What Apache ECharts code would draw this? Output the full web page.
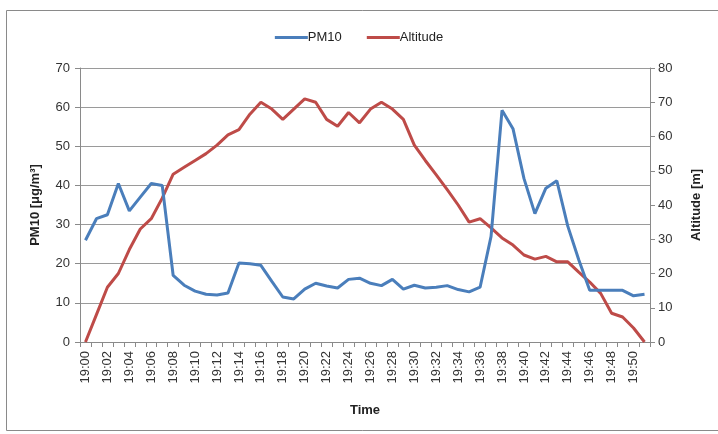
<!DOCTYPE html>
<html>
<head>
<meta charset="utf-8">
<script src="https://cdn.jsdelivr.net/npm/echarts@6/dist/echarts.min.js"></script>
<style>
html,body{margin:0;padding:0;background:#fff;}
#chart{width:718px;height:434px;}
</style>
</head>
<body>
<div id="chart"></div>
<script>
var times = ['19:00','19:01','19:02','19:03','19:04','19:05','19:06','19:07','19:08','19:09',
'19:10','19:11','19:12','19:13','19:14','19:15','19:16','19:17','19:18','19:19',
'19:20','19:21','19:22','19:23','19:24','19:25','19:26','19:27','19:28','19:29',
'19:30','19:31','19:32','19:33','19:34','19:35','19:36','19:37','19:38','19:39',
'19:40','19:41','19:42','19:43','19:44','19:45','19:46','19:47','19:48','19:49',
'19:50','19:51'];

var pm10 = [26,31.5,32.5,40.5,33.5,37,40.5,40,17,14.5,
13,12.2,12,12.5,20.2,20,19.6,15.5,11.5,11,
13.5,15,14.3,13.8,16,16.3,15,14.4,16,13.5,
14.5,13.8,14,14.4,13.4,12.8,14,27,59.2,54.5,
41.8,32.8,39.3,41.2,29.6,21,13.2,13.2,13.2,13.2,
11.8,12.2];

var altitude = [0,8,16,20,27,33,36,42,49,51,
53,55,57.5,60.5,62,66.5,70,68,65,68,
71,70,65,63,67,64,68,70,68,65,
57.5,53,48.8,44.5,40,35,36,33.3,30.4,28.3,
25.4,24.2,25,23.4,23.4,20.4,17.5,14.2,8.4,7.3,
4.1,0];

var leftTicks = [0,10,20,30,40,50,60,70];
var rightTicks = [0,10,20,30,40,50,60,70,80];

var chart = echarts.init(document.getElementById('chart'));
var font = 'Liberation Sans';
chart.setOption({
  backgroundColor:'#fff',
  animation:false,
  textStyle:{fontFamily:font},
  graphic:[{type:'rect',shape:{x:6.5,y:10.5,width:720,height:420},style:{fill:'none',stroke:'#8a8a8a',lineWidth:1},z:-1}],
  legend:{
    top:26,left:'center',
    itemWidth:33,itemHeight:3,itemGap:25,
    icon:'rect',
    textStyle:{fontFamily:font,fontSize:13,color:'#222',padding:[0,0,0,-5]},
    data:['PM10','Altitude']
  },
  grid:{left:80,right:68,top:68,bottom:92,containLabel:false},
  xAxis:{
    type:'category',data:times,boundaryGap:true,
    name:'Time',nameLocation:'middle',nameGap:62,
    nameTextStyle:{fontFamily:font,fontSize:13,fontWeight:'bold',color:'#222'},
    axisLine:{lineStyle:{color:'#8a8a8a',width:1}},
    axisTick:{show:true,interval:0,alignWithLabel:false,length:5,lineStyle:{color:'#8a8a8a'}},
    axisLabel:{interval:1,rotate:90,fontFamily:font,fontSize:13,color:'#333',margin:9},
    splitLine:{show:false}
  },
  yAxis:[{
    type:'value',min:0,max:70,interval:10,position:'left',
    name:'PM10 [\u03bcg/m\u00b3]',nameLocation:'middle',nameGap:38,nameRotate:90,
    nameTextStyle:{fontFamily:font,fontSize:13,fontWeight:'bold',color:'#222'},
    axisLine:{show:true,lineStyle:{color:'#8a8a8a'}},
    axisTick:{show:true,length:5,lineStyle:{color:'#8a8a8a'}},
    axisLabel:{fontFamily:font,fontSize:13,color:'#333',margin:10},
    splitLine:{show:true,lineStyle:{color:'#9a9a9a',width:1}}
  },{
    type:'value',min:0,max:80,interval:10,position:'right',
    name:'Altitude [m]',nameLocation:'middle',nameGap:40,nameRotate:90,
    nameTextStyle:{fontFamily:font,fontSize:13,fontWeight:'bold',color:'#222'},
    axisLine:{show:true,lineStyle:{color:'#8a8a8a'}},
    axisTick:{show:true,length:5,lineStyle:{color:'#8a8a8a'}},
    axisLabel:{fontFamily:font,fontSize:13,color:'#333',margin:8},
    splitLine:{show:false}
  }],
  series:[{
    name:'PM10',type:'line',data:pm10,yAxisIndex:0,
    showSymbol:false,symbol:'none',
    lineStyle:{color:'#4a7ebb',width:3},itemStyle:{color:'#4a7ebb'},z:3
  },{
    name:'Altitude',type:'line',data:altitude,yAxisIndex:1,
    showSymbol:false,symbol:'none',
    lineStyle:{color:'#be4b48',width:3},itemStyle:{color:'#be4b48'},z:2
  }]
});
</script>
</body>
</html>
